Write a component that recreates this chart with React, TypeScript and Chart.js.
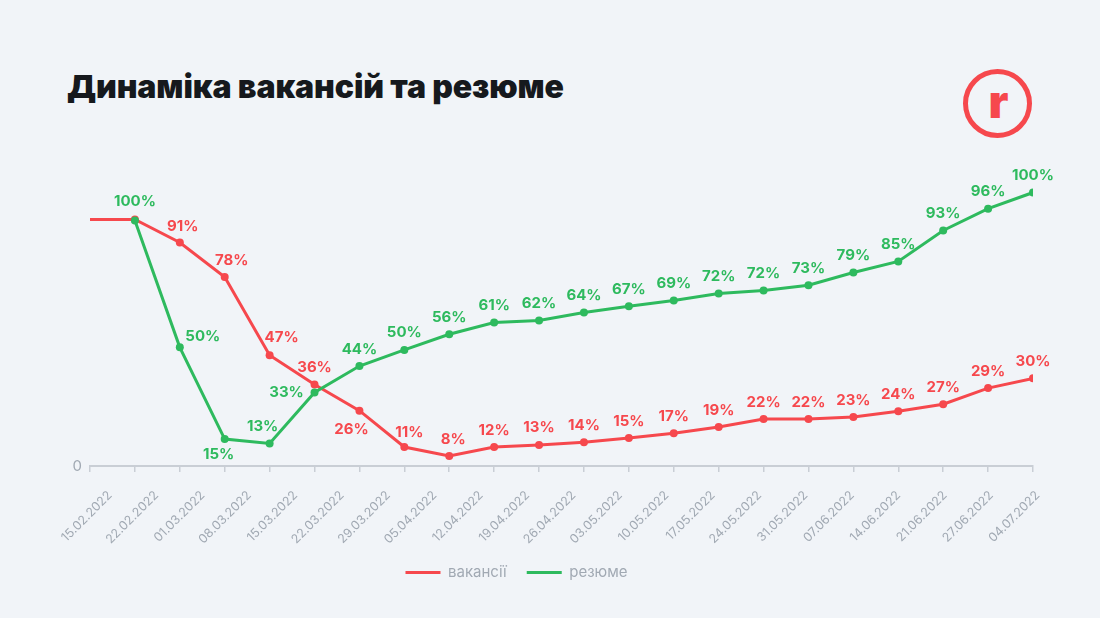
import React, { useEffect, useRef } from "react";
import { Chart, registerables } from "chart.js";

Chart.register(...registerables);

// ---- data ----
const dates = [
  "15.02.2022", "22.02.2022", "01.03.2022", "08.03.2022", "15.03.2022", "22.03.2022",
  "29.03.2022", "05.04.2022", "12.04.2022", "19.04.2022", "26.04.2022", "03.05.2022",
  "10.05.2022", "17.05.2022", "24.05.2022", "31.05.2022", "07.06.2022", "14.06.2022",
  "21.06.2022", "27.06.2022", "04.07.2022",
];

// plotted level of each weekly point
const vacancies = [100, 100, 91, 77.5, 47, 35.6, 25.4, 11.2, 7.7, 11.2, 12, 13.1, 14.7, 16.6, 19, 22.1, 22.1, 22.9, 25.2, 27.9, 34.2, 38];
const resumes = [null, 99.6, 50.1, 14.3, 12.6, 32.5, 42.8, 49.1, 55.2, 59.8, 60.6, 63.7, 66.1, 68.4, 71.1, 72.3, 74.3, 79.3, 83.6, 95.7, 104.2, 110.5];

// printed data labels
const vacancyLabels = [null, null, "91%", "78%", "47%", "36%", "26%", "11%", "8%", "12%", "13%", "14%", "15%", "17%", "19%", "22%", "22%", "23%", "24%", "27%", "29%", "30%"];
const resumeLabels = [null, "100%", "50%", "15%", "13%", "33%", "44%", "50%", "56%", "61%", "62%", "64%", "67%", "69%", "72%", "72%", "73%", "79%", "85%", "93%", "96%", "100%"];

const seriesNames = ["вакансії", "резюме"];
const yTickLabels = ["0"];

// ---- styles ----
const RED = "#f6484d";
const GREEN = "#2eba5e";
const BG = "#f1f4f8";
const AXIS = "#c9ced5";
const MUTED = "#a1a9b3";

const Y_MIN = 3.8;
const Y_MAX = 115;
const LABEL_START = 0.445;
const LABEL_STEP = 1.033;

const DEFAULT_OFFSET: [number, number] = [0, -17];
const vacancyOffsets: Record<number, [number, number]> = {
  2: [3, -16], 3: [7, -17], 4: [12, -18], 6: [-8, 19], 7: [5, -15], 8: [4, -17],
};
const resumeOffsets: Record<number, [number, number]> = {
  1: [0, -19], 2: [23, -11], 3: [-6, 15], 4: [-7, -17], 5: [-28, 0],
};

const dataLabelPlugin = {
  id: "pointLabels",
  afterDatasetsDraw(chart: any) {
    const ctx = chart.ctx;
    const sets = [
      { idx: 0, labels: vacancyLabels, offsets: vacancyOffsets, color: RED },
      { idx: 1, labels: resumeLabels, offsets: resumeOffsets, color: GREEN },
    ];
    ctx.save();
    ctx.font = "700 15px Inter, 'Noto Sans', sans-serif";
    ctx.textAlign = "center";
    ctx.textBaseline = "middle";
    for (const s of sets) {
      const meta = chart.getDatasetMeta(s.idx);
      meta.data.forEach((pt: any, i: number) => {
        const text = s.labels[i];
        if (!text || pt.skip) return;
        const [dx, dy] = s.offsets[i] || DEFAULT_OFFSET;
        ctx.fillStyle = s.color;
        ctx.fillText(text, pt.x + dx, pt.y + dy);
      });
    }
    ctx.restore();
  },
};

export default function App() {
  const ref = useRef<HTMLCanvasElement | null>(null);

  useEffect(() => {
    document.body.style.margin = "0";
    document.body.style.background = BG;
    if (!ref.current) return;
    const chart = new Chart(ref.current, {
      type: "line",
      data: {
        datasets: [
          {
            label: seriesNames[0],
            data: vacancies.map((v, i) => ({ x: i, y: v })),
            borderColor: RED,
            backgroundColor: RED,
            borderWidth: 3,
            pointRadius: (c: any) => (c.dataIndex === 0 ? 0 : 4),
            pointBackgroundColor: RED,
            pointBorderWidth: 0,
            tension: 0,
            order: 1,
          },
          {
            label: seriesNames[1],
            data: resumes.map((v, i) => ({ x: i, y: v })) as any,
            borderColor: GREEN,
            backgroundColor: GREEN,
            borderWidth: 3,
            pointRadius: 4,
            pointBackgroundColor: GREEN,
            pointBorderWidth: 0,
            tension: 0,
            order: 0,
          },
        ],
      },
      options: {
        animation: false,
        responsive: false,
        layout: { padding: { top: 181, left: 0, right: 67, bottom: 28 } },
        plugins: {
          tooltip: { enabled: false },
          legend: {
            position: "bottom",
            labels: {
              boxWidth: 35,
              boxHeight: 3,
              padding: 20,
              color: MUTED,
              font: { family: "Inter, 'Noto Sans', sans-serif", size: 15 },
              sort: (a: any, b: any) => a.datasetIndex - b.datasetIndex,
              generateLabels: (chart: any) =>
                Chart.defaults.plugins.legend.labels.generateLabels(chart).map((l: any) => ({
                  ...l,
                  lineWidth: 0,
                })),
            },
          },
        },
        scales: {
          x: {
            type: "linear",
            min: 0,
            max: vacancies.length - 1,
            weight: 0,
            afterBuildTicks: (s: any) => {
              s.ticks = vacancies.map((_, i) => ({ value: i }));
            },
            afterFit: (s: any) => {
              s.height = 6;
            },
            ticks: { display: false },
            grid: { drawOnChartArea: false, drawTicks: true, tickLength: 6, color: AXIS, lineWidth: 1.5 },
            border: { color: AXIS, width: 2 },
          },
          x2: {
            type: "linear",
            position: "bottom",
            min: 0,
            max: vacancies.length - 1,
            weight: 1,
            afterBuildTicks: (s: any) => {
              s.ticks = dates.map((_, i) => ({ value: LABEL_START + i * LABEL_STEP }));
            },
            afterFit: (s: any) => {
              s.height = 73;
            },
            grid: { display: false },
            border: { display: false },
            ticks: {
              autoSkip: false,
              minRotation: 45,
              maxRotation: 45,
              padding: 8,
              color: MUTED,
              font: { family: "Inter, 'Noto Sans', sans-serif", size: 12.5 },
              callback: (_v: any, i: number) => dates[i],
            },
          },
          y: {
            min: Y_MIN,
            max: Y_MAX,
            afterBuildTicks: (s: any) => {
              s.ticks = yTickLabels.map(() => ({ value: Y_MIN }));
            },
            afterFit: (s: any) => {
              s.width = 90;
            },
            grid: { display: false },
            border: { display: false },
            ticks: {
              padding: 0,
              color: MUTED,
              font: { family: "Inter, 'Noto Sans', sans-serif", size: 15 },
              callback: (_v: any, i: number) => yTickLabels[i],
            },
          },
        },
      } as any,
      plugins: [dataLabelPlugin],
    });
    return () => chart.destroy();
  }, []);

  return (
    <div style={{ position: "relative", width: 1100, height: 618, background: BG, overflow: "hidden" }}>
      <div
        style={{
          position: "absolute",
          left: 67,
          top: 67,
          fontFamily: "Inter, 'Noto Sans', sans-serif",
          fontWeight: 900,
          fontSize: 32,
          color: "#16191d",
          letterSpacing: -0.1,
          whiteSpace: "nowrap",
        }}
      >
        Динаміка вакансій та резюме
      </div>
      <div
        style={{
          position: "absolute",
          left: 963,
          top: 69,
          width: 59,
          height: 59,
          border: `5px solid ${RED}`,
          borderRadius: "50%",
          display: "flex",
          alignItems: "center",
          justifyContent: "center",
          color: RED,
          fontFamily: "Inter, 'Noto Sans', sans-serif",
          fontWeight: 900,
          fontSize: 46,
          lineHeight: 1,
        }}
      >
        <span style={{ marginTop: -5, marginLeft: 2 }}>r</span>
      </div>
      <canvas ref={ref} width={1100} height={618} style={{ position: "absolute", left: 0, top: 0, width: 1100, height: 618 }} />
    </div>
  );
}
